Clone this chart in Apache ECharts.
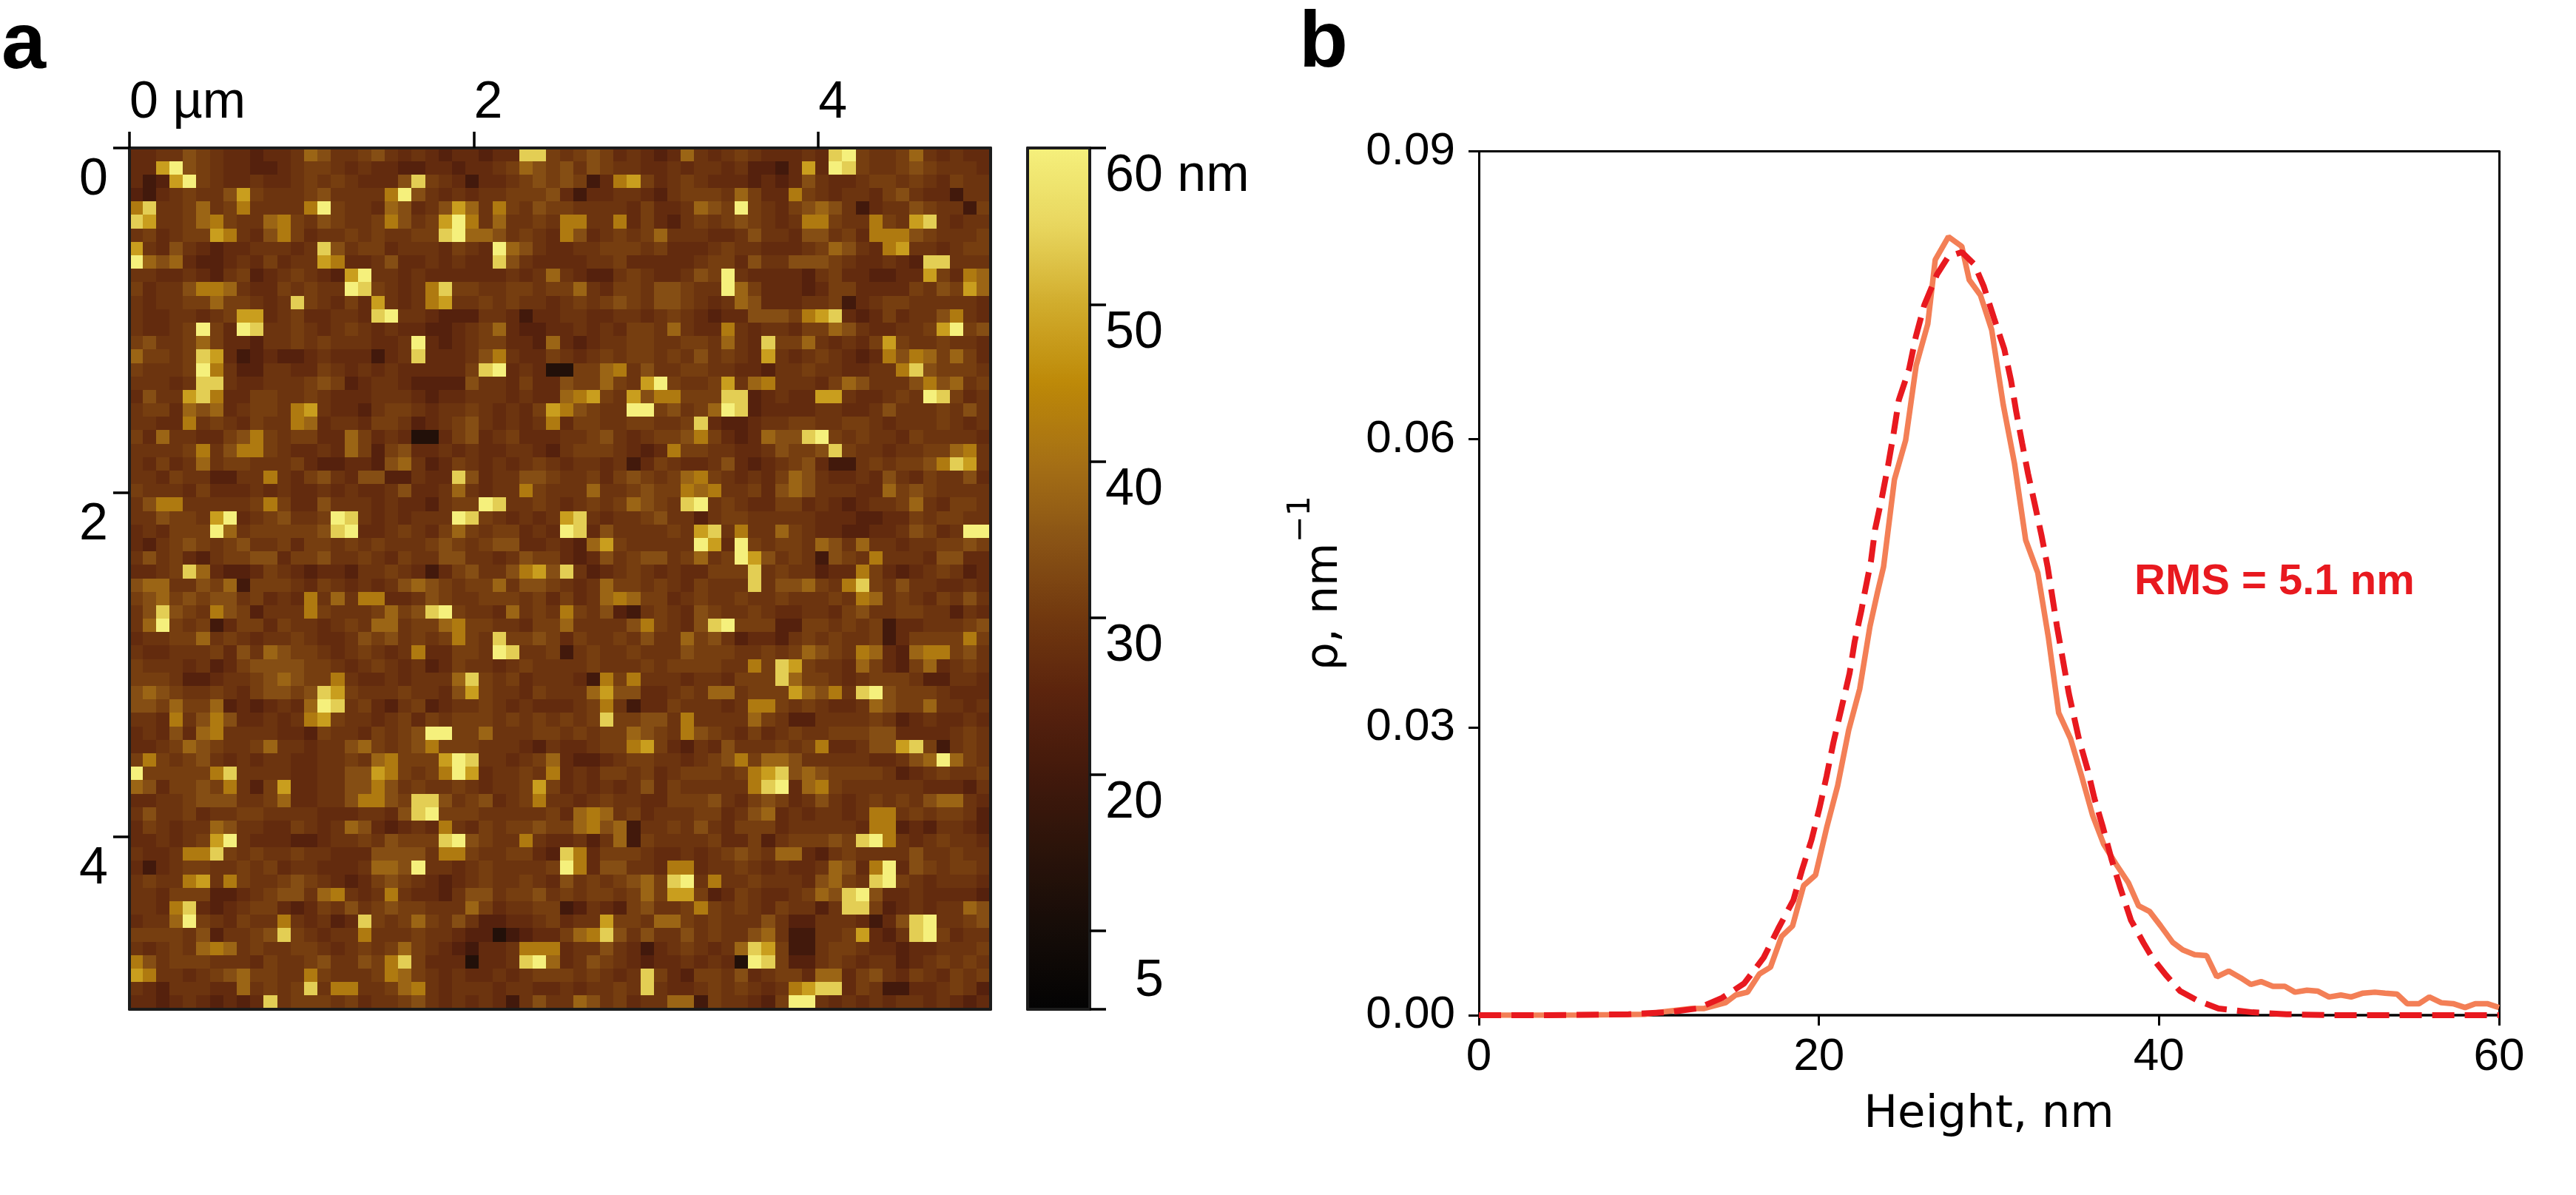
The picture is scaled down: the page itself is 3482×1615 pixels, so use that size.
<!DOCTYPE html>
<html>
<head>
<meta charset="utf-8">
<title>AFM height map and height distribution</title>
<script src="https://cdn.jsdelivr.net/npm/echarts@6/dist/echarts.min.js"></script>
<style>
  html, body { margin: 0; padding: 0; background: #fff; }
  #chart { width: 3482px; height: 1615px; }
</style>
</head>
<body>
<div id="chart"></div>
<script>
// panel a: AFM height map, one character per cell
const heightByChar = { 0: 13, 1: 20, 2: 24, 3: 27, 4: 29, 5: 31, 6: 34, 7: 38, 8: 42, 9: 48, a: 54, b: 60 };
const afmRows = [
  '33446543 32334764 45643432 33233aa5 45653432 37434543 3343ab54 45743433',
  '339b6543 32234554 34332233 23345765 64654433 43443422 1393ba54 45654443',
  '3129b543 34334545 43336a54 31334565 65138953 45433323 23643345 54543544',
  '21345446 95444564 4448b643 43445556 31334432 45554753 38543443 56433144',
  '8a445745 844448b5 44376346 97485465 54444353 34765b54 35676413 44654415',
  'a9445785 44785465 44586459 b8474454 88448353 24545654 34885448 549a4344',
  '45345598 43685344 5454455a b7764543 86345457 44433464 43664538 88654445',
  '94364323 344434a6 45534443 543b7643 34455545 33345443 33457643 89443455',
  'b7673223 43534498 33463343 433a6433 33445333 33455364 46665433 432aa444',
  '44334324 52345432 9b443433 33334347 43224543 3465b433 33245332 23395387',
  '53446887 43354544 ba54348a 55445545 57435546 6544b753 33235533 33546597',
  '43445575 5434a543 53943489 44545443 45456546 65434763 33445134 55444443',
  '43344345 99345334 43ab4432 22443133 44334434 54323366 6589a323 53446843',
  '43345b53 ba445434 54343322 34573223 34343554 74338434 43557643 34459b56',
  '56445753 32445454 44334b32 34553327 32344554 4554743a 55743435 95445443',
  '75545a93 12322343 33134a33 34684335 43454554 54645439 43454323 86875753',
  '54445b84 22443354 34343333 35ab3430 05578464 45544332 44544334 48a65554',
  '44434aa4 33444565 23443222 26443533 6557549b 54459478 44435764 44686745',
  '36449a83 35544543 33444323 34443433 78954968 8555aa23 43399433 454ba534',
  '45537673 45548943 32455434 45434359 86544bb5 6457ba23 33344334 64445464',
  '44338454 35448734 43554234 56434348 35544554 45a32234 45544554 34445434',
  '53744335 68545533 75343003 56345333 44564345 56853237 66ab5454 43544443',
  '44445846 88543343 75256334 34334432 45554323 85544334 6556a544 34455784',
  '43534745 54445322 33267423 54343454 34434135 43346323 45631145 45568a94',
  '44354422 44843564 36622433 a6344665 44535654 57854343 57643343 64354463',
  '54443533 34343343 43346334 74344854 44744565 58784453 67644433 75654444',
  '46884444 45853364 44343324 55ba4454 34545765 4ab45433 55343234 45743554',
  '4465549b 3456445b a4343444 ba543434 9a434456 44245544 44433322 33545544',
  '343555b7 4555556a b3345435 75455343 ba364444 549a4844 75433223 346534bb',
  '32456545 64453554 54544456 54566334 32795444 44b93b54 55476474 43445565',
  '46453245 56635564 45435446 64434655 32364566 45745b96 45416548 44436633',
  '3345a732 23543233 24454313 56446896 a4234543 433555a4 54423385 32345423',
  '67744657 15554354 34346765 45574665 43475545 435444a4 667548a5 46443343',
  '56756566 45343847 48833465 44555453 53478755 34544544 54445487 45435464',
  '46a65486 52444854 445756ab 54437454 85462145 43654454 33443564 45544243',
  '47b54513 55354434 54774557 85544355 74444685 436ab555 22554545 13344456',
  '34455745 43445433 46564545 854a5565 35445464 47564233 24545445 13555585',
  '43344453 64765543 45434833 554ba445 14544544 46555445 45765487 32788564',
  '54443423 56666554 34543423 54434544 44544454 55554485 a9544375 32573454',
  '55542234 45676558 43343444 7a545344 43185844 43443555 a7554345 55422443',
  '67654454 356656a9 54445443 69544354 44796633 45477455 597684ab 65554333',
  '66575572 323437ba 45324523 44543433 34584133 54443488 54543347 65574434',
  '44384686 33434895 44345354 55545454 545a5566 48444475 42244445 42343343',
  '34363784 44433254 435456bb 55744455 45455765 48654353 45445556 63333454',
  '33457654 45744344 67545685 55444324 33455895 32436444 54583346 69a51454',
  '58545643 43443344 54785559 ba443457 32234554 43456857 76444443 3467b754',
  'b555558a 44443344 66985458 b9344548 34355453 45554589 a6765555 42345445',
  '76355658 42593344 66864544 54344595 34343463 5444448a b3785444 44433324',
  '33445666 44573344 68865aa6 45634584 43454433 55564356 53464345 45467743',
  '46445344 55444433 34436ab5 55444445 37874534 44553467 34344348 84545542',
  '35434476 44335434 76323438 43545565 57867144 54643555 34444438 82324432',
  '3343459b 43332234 4546555a b6544843 34247154 44453352 455565ab 84345443',
  '433488a5 45445443 33666648 85445532 a8355543 34345654 77324544 44644544',
  '31345544 54534433 34776b44 34544445 b8366443 88344543 43347638 b3654554',
  '45448948 54456543 23565432 34544543 64545675 ab484454 4436754a b5434443',
  '44355522 34566478 43484332 46645564 54554575 99523543 34576ab6 33433332',
  '4438a323 45532354 64565544 47534455 12432564 45854543 54424aa5 23434476',
  '3447b543 54484342 3a545754 64223345 34495547 75454446 42244431 36ab4456',
  '55554624 456a5434 48444544 32201233 578a6464 46454467 41144593 24ab5344',
  '43454787 45445543 45457543 21334888 34464313 454347a9 51145543 32334445',
  '86455544 43544564 4658a533 30334ab7 34654323 343430ba 52245434 42345454',
  '98443456 75544854 44587543 43343455 545434a5 32554634 55377356 43543545',
  '43244433 74545a48 84457843 44434433 434454a4 33454543 489aa354 11334542',
  '33234323 23a45554 53445643 43431464 47645344 77154432 5bb43434 34434323'
];
const scanSizeUm = 5;
const scanTicks = [0, 2, 4];
const colorbarTicks = [60, 50, 40, 30, 20, 10, 5];
const colorbarLabels = [60, 50, 40, 30, 20];
const colorbarColors = ['#030303', '#150c08', '#2a130a', '#42190c', '#5a230d', '#71380f',
  '#8a5415', '#a67015', '#bd8908', '#d1ac2c', '#e8d65e', '#f5f07c'];

// panel b: height distribution
const measuredHeight = [0, 2, 4, 6, 8, 9.75, 11.1, 12.5, 13.25, 14.5, 15.1, 15.8, 16.5, 17.15, 17.8, 18.45, 19.1, 19.8,
  20.45, 21.1, 21.75, 22.4, 23, 23.45, 23.8, 24.44, 25.1, 25.72, 26.4, 26.84, 27.62, 28.4, 28.84, 29.5, 30.16, 30.84,
  31.5, 32.16, 32.87, 33.5, 34.1, 34.8, 35.45, 36.1, 36.75, 37.45, 38.2, 38.8, 39.45, 40.1, 40.8, 41.4, 42.1, 42.8,
  43.4, 44.1, 44.8, 45.4, 46, 46.7, 47.4, 48, 48.7, 49.35, 50, 50.7, 51.3, 52, 52.7, 53.3, 54, 54.6, 55.3, 55.9, 56.6,
  57.3, 58, 58.6, 59.3, 60];
const measuredDensity = [0, 0, 0, 0.00002, 0.00005, 0.0001, 0.0004, 0.0007, 0.0007, 0.0013, 0.0021, 0.0024, 0.0043, 0.005,
  0.0082, 0.0093, 0.0135, 0.0146, 0.0195, 0.0239, 0.0297, 0.034, 0.0405, 0.0441, 0.0467, 0.0558, 0.0599, 0.0677, 0.072,
  0.0787, 0.0811, 0.0801, 0.0766, 0.075, 0.0714, 0.0636, 0.0575, 0.0495, 0.0461, 0.0393, 0.0315, 0.0288, 0.0249, 0.0208,
  0.0178, 0.0158, 0.0138, 0.0114, 0.0108, 0.0093, 0.0076, 0.0068, 0.0063, 0.0062, 0.004, 0.0046, 0.0039, 0.0032, 0.0035,
  0.003, 0.003, 0.0024, 0.0026, 0.0025, 0.0019, 0.0021, 0.0019, 0.0023, 0.0024, 0.0023, 0.0022, 0.0012, 0.0012, 0.0019,
  0.0013, 0.0012, 0.0008, 0.0012, 0.0012, 0.0008];
const fitHeight = [0, 4, 8.8, 11.1, 12.85, 14.3, 15.6, 16.75, 17.6, 18.5, 19, 19.57, 20.05, 20.45, 20.85, 21.3, 21.8, 22.1,
  22.5, 22.7, 23.06, 23.3, 23.7, 24.07, 24.4, 24.7, 25.3, 25.7, 26.2, 26.95, 27.6, 28.4, 29.15, 29.7, 30.3, 30.9, 31.3,
  31.6, 31.95, 32.3, 32.7, 33.1, 33.45, 34, 34.7, 35.3, 35.8, 36.2, 36.7, 37.2, 37.7, 38.35, 39.1, 39.6, 40.4, 41.25,
  42.3, 43.5, 45.5, 47.5, 50, 60];
const fitDensity = [0, 0, 0.0001, 0.0003, 0.0007, 0.0018, 0.0033, 0.006, 0.009, 0.012, 0.0151, 0.0183, 0.0217, 0.0249,
  0.0284, 0.0318, 0.0356, 0.0389, 0.0422, 0.0441, 0.0473, 0.0506, 0.0539, 0.0573, 0.0607, 0.0641, 0.0673, 0.0707, 0.074,
  0.0772, 0.079, 0.0795, 0.0782, 0.0759, 0.0726, 0.0694, 0.0661, 0.0629, 0.0596, 0.0564, 0.0532, 0.0499, 0.0467, 0.0405,
  0.0335, 0.0287, 0.0256, 0.0226, 0.0196, 0.0163, 0.0134, 0.0099, 0.0075, 0.006, 0.0042, 0.0025, 0.0015, 0.0007, 0.0003,
  0.0001, 0, 0];

const cells = [];
afmRows.forEach((row, r) => {
  const chars = row.replace(/ /g, '');
  const size = chars.length;
  for (let c = 0; c < size; c++) {
    cells.push([c * scanSizeUm / size, r * scanSizeUm / afmRows.length, heightByChar[chars[c]]]);
  }
});
const cellStep = scanSizeUm / afmRows.length;

const FONT = '"Liberation Sans", Arial, sans-serif';
const LABEL_FONT = '"DejaVu Sans", sans-serif';
const INK = '#000';
const frameLine = { show: true, onZero: false, lineStyle: { color: '#1c1c1c', width: 4 } };

const chart = echarts.init(document.getElementById('chart'), null, { renderer: 'canvas' });
chart.setOption({
  animation: false,
  backgroundColor: '#fff',
  grid: [
    { left: 175, top: 200, width: 1164, height: 1164 },
    { left: 1389, top: 200, width: 84, height: 1164 },
    { left: 1999, top: 204.5, width: 1379, height: 1167.5 }
  ],
  visualMap: {
    type: 'continuous',
    seriesIndex: 0,
    dimension: 2,
    min: 5,
    max: 60,
    calculable: false,
    hoverLink: false,
    left: 1389,
    top: 200,
    padding: 0,
    itemWidth: 84,
    itemHeight: 1164,
    text: null,
    showLabel: false,
    inRange: { color: colorbarColors }
  },
  xAxis: [
    {
      gridIndex: 0, type: 'value', position: 'top', min: 0, max: scanSizeUm, z: 5,
      axisLine: frameLine,
      axisTick: { show: true, length: 22, customValues: scanTicks, lineStyle: { color: INK, width: 3.5 } },
      axisLabel: {
        show: true, customValues: scanTicks, margin: 25, align: 'left', verticalAlign: 'bottom',
        color: INK, fontFamily: FONT, fontSize: 70,
        formatter: (v) => (v === 0 ? '0 µm' : String(v))
      },
      splitLine: { show: false }
    },
    {
      gridIndex: 0, type: 'value', position: 'bottom', min: 0, max: scanSizeUm, z: 5,
      axisLine: frameLine, axisTick: { show: false }, axisLabel: { show: false }, splitLine: { show: false }
    },
    {
      gridIndex: 1, type: 'value', position: 'top', min: 0, max: 1, z: 5,
      axisLine: frameLine, axisTick: { show: false }, axisLabel: { show: false }, splitLine: { show: false }
    },
    {
      gridIndex: 1, type: 'value', position: 'bottom', min: 0, max: 1, z: 5,
      axisLine: frameLine, axisTick: { show: false }, axisLabel: { show: false }, splitLine: { show: false }
    },
    {
      gridIndex: 2, type: 'value', position: 'bottom', min: 0, max: 60, interval: 20,
      name: 'Height, nm', nameLocation: 'middle', nameGap: 105,
      nameTextStyle: { color: INK, fontFamily: LABEL_FONT, fontSize: 61 },
      axisLine: { show: true, onZero: false, lineStyle: { color: INK, width: 3.5 } },
      axisTick: { show: true, length: 14, lineStyle: { color: INK, width: 3 } },
      axisLabel: { color: INK, fontFamily: FONT, fontSize: 62, margin: 26 },
      splitLine: { show: false }
    },
    {
      gridIndex: 2, type: 'value', position: 'top', min: 0, max: 60,
      axisLine: { show: true, onZero: false, lineStyle: { color: INK, width: 3 } },
      axisTick: { show: false }, axisLabel: { show: false }, splitLine: { show: false }
    }
  ],
  yAxis: [
    {
      gridIndex: 0, type: 'value', position: 'left', inverse: true, min: 0, max: scanSizeUm, z: 5,
      axisLine: frameLine,
      axisTick: { show: true, length: 22, customValues: scanTicks, lineStyle: { color: INK, width: 3.5 } },
      axisLabel: {
        show: true, customValues: scanTicks, margin: 29, align: 'right', verticalAlign: 'top',
        color: INK, fontFamily: FONT, fontSize: 70, lineHeight: 88
      },
      splitLine: { show: false }
    },
    {
      gridIndex: 0, type: 'value', position: 'right', inverse: true, min: 0, max: scanSizeUm, z: 5,
      axisLine: frameLine, axisTick: { show: false }, axisLabel: { show: false }, splitLine: { show: false }
    },
    {
      gridIndex: 1, type: 'value', position: 'left', min: 5, max: 60, z: 5,
      axisLine: frameLine, axisTick: { show: false }, axisLabel: { show: false }, splitLine: { show: false }
    },
    {
      gridIndex: 1, type: 'value', position: 'right', min: 5, max: 60, z: 5,
      axisLine: frameLine,
      axisTick: { show: true, length: 22, customValues: colorbarTicks, lineStyle: { color: INK, width: 3.5 } },
      axisLabel: {
        show: true, customValues: colorbarLabels, margin: 21, align: 'left', verticalAlign: 'top',
        color: INK, fontFamily: FONT, fontSize: 70, lineHeight: 78,
        formatter: (v) => (v === 60 ? '60 nm' : String(v))
      },
      splitLine: { show: false }
    },
    {
      gridIndex: 2, type: 'value', position: 'left', min: 0, max: 0.09, interval: 0.03,
      name: '{a|ρ, nm}{s|−1}', nameLocation: 'middle', nameGap: 178, nameRotate: 90,
      nameTextStyle: {
        color: INK, fontFamily: LABEL_FONT, fontSize: 60,
        rich: {
          a: { fontFamily: LABEL_FONT, fontSize: 60, color: INK, lineHeight: 84, verticalAlign: 'bottom' },
          s: { fontFamily: LABEL_FONT, fontSize: 43, color: INK, lineHeight: 84, verticalAlign: 'top' }
        }
      },
      axisLine: { show: true, onZero: false, lineStyle: { color: INK, width: 3 } },
      axisTick: { show: true, length: 14, lineStyle: { color: INK, width: 3 } },
      axisLabel: { color: INK, fontFamily: FONT, fontSize: 62, margin: 32, formatter: (v) => v.toFixed(2) },
      splitLine: { show: false }
    },
    {
      gridIndex: 2, type: 'value', position: 'right', min: 0, max: 0.09,
      axisLine: { show: true, onZero: false, lineStyle: { color: INK, width: 3 } },
      axisTick: { show: false }, axisLabel: { show: false }, splitLine: { show: false }
    }
  ],
  series: [
    {
      type: 'custom',
      xAxisIndex: 0,
      yAxisIndex: 0,
      coordinateSystem: 'cartesian2d',
      encode: { x: 0, y: 1 },
      silent: true,
      data: cells,
      renderItem: (params, api) => {
        const a = api.coord([api.value(0), api.value(1)]);
        const b = api.coord([api.value(0) + cellStep, api.value(1) + cellStep]);
        const x = Math.floor(a[0]);
        const y = Math.floor(a[1]);
        return {
          type: 'rect',
          shape: { x, y, width: Math.ceil(b[0]) - x, height: Math.ceil(b[1]) - y },
          style: { fill: api.visual('color') }
        };
      }
    },
    {
      type: 'line',
      name: 'measured',
      xAxisIndex: 4,
      yAxisIndex: 4,
      showSymbol: false,
      silent: true,
      data: measuredHeight.map((h, i) => [h, measuredDensity[i]]),
      lineStyle: { color: '#f37f56', width: 7.5 },
      z: 3
    },
    {
      type: 'line',
      name: 'fit',
      xAxisIndex: 4,
      yAxisIndex: 4,
      showSymbol: false,
      silent: true,
      data: fitHeight.map((h, i) => [h, fitDensity[i]]),
      lineStyle: { color: '#e8191f', width: 8, type: [30, 14] },
      z: 4
    }
  ],
  graphic: [
    { type: 'text', left: 2, top: 8, style: { text: 'a', fill: INK, font: 'bold 108px ' + FONT } },
    { type: 'text', left: 1756, top: 6, style: { text: 'b', fill: INK, font: 'bold 108px ' + FONT } },
    { type: 'text', left: 1534, top: 1292, style: { text: '5', fill: INK, font: '70px ' + FONT } },
    { type: 'text', left: 2885, top: 758, style: { text: 'RMS = 5.1 nm', fill: '#e8191f', font: 'bold 58px ' + FONT } }
  ]
});
</script>
</body>
</html>
